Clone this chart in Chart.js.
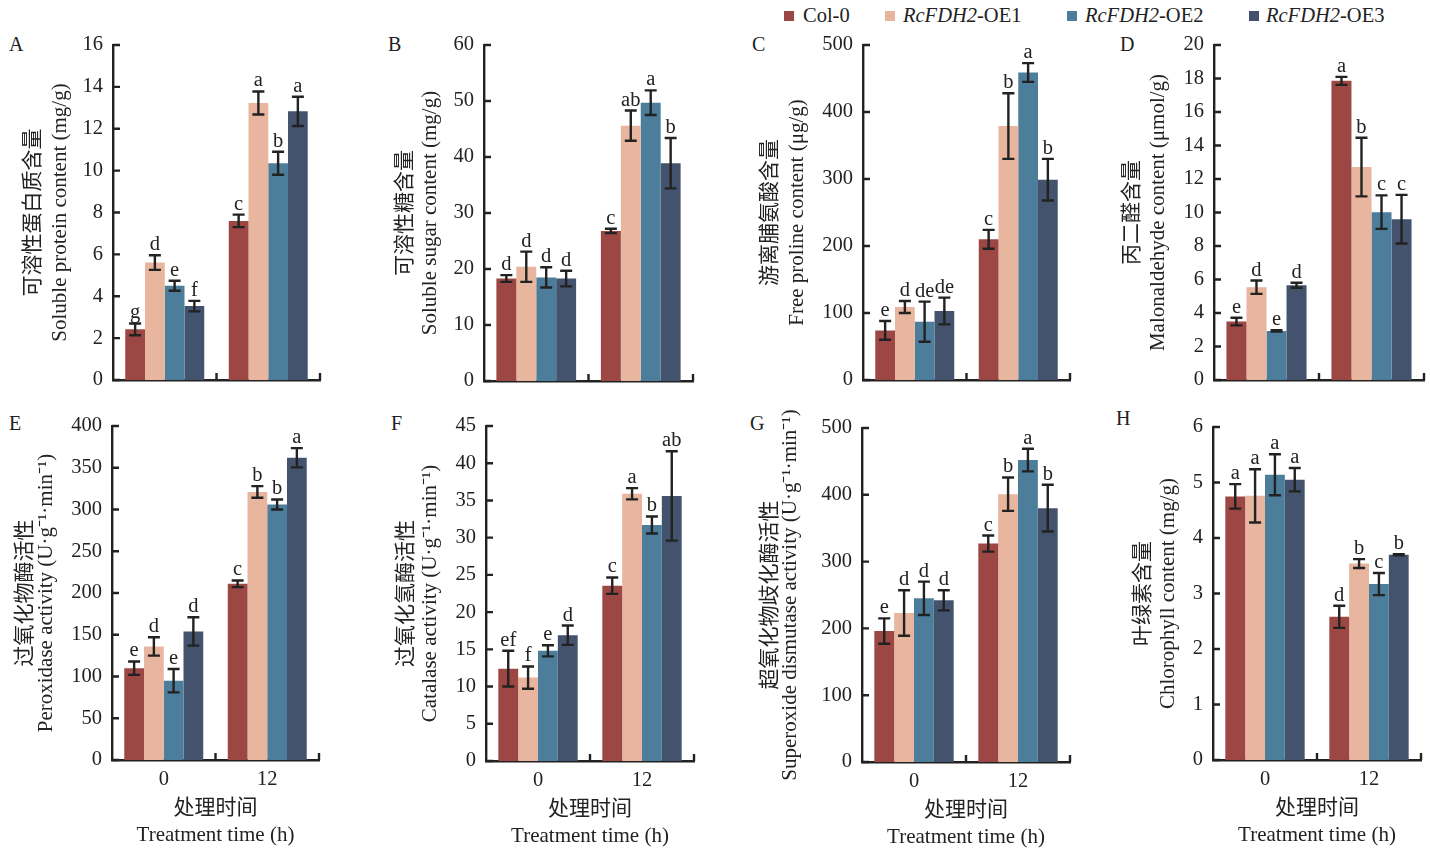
<!DOCTYPE html>
<html>
<head>
<meta charset="utf-8">
<script src="https://cdn.jsdelivr.net/npm/chart.js@4.4.1/dist/chart.umd.min.js"></script>
<style>
  body { margin: 0; background: #fff; width: 1430px; height: 853px; position: relative; overflow: hidden;
         font-family: 'Liberation Serif', 'Noto Sans CJK SC', serif; color: #222; }
  canvas { position: absolute; }
  .tag { position: absolute; font-size: 20px; line-height: 20px; }
  .sw { position: absolute; top: 11px; width: 10px; height: 10px; }
  .lt { position: absolute; top: 4px; font-size: 20.5px; line-height: 22px; white-space: nowrap; }
</style>
</head>
<body>
<div class="sw" style="left:784px;background:#9C4743"></div><div class="lt" style="left:803px">Col-0</div>
<div class="sw" style="left:885px;background:#E8B59E"></div><div class="lt" style="left:903px"><i>RcFDH2</i>-OE1</div>
<div class="sw" style="left:1067px;background:#4C7E9C"></div><div class="lt" style="left:1085px"><i>RcFDH2</i>-OE2</div>
<div class="sw" style="left:1249px;background:#43536D"></div><div class="lt" style="left:1266px"><i>RcFDH2</i>-OE3</div>

<div class="tag" style="left:9px;top:34px">A</div>
<div class="tag" style="left:388px;top:34px">B</div>
<div class="tag" style="left:752px;top:34px">C</div>
<div class="tag" style="left:1120px;top:34px">D</div>
<div class="tag" style="left:9px;top:413px">E</div>
<div class="tag" style="left:391px;top:413px">F</div>
<div class="tag" style="left:750px;top:413px">G</div>
<div class="tag" style="left:1116px;top:408px">H</div>

<script>
const times = ['0', '12'];
const genotypes = ['Col-0', 'RcFDH2-OE1', 'RcFDH2-OE2', 'RcFDH2-OE3'];
const colors = ['#9C4743', '#E8B59E', '#4C7E9C', '#43536D'];

// rows: Col-0, OE1, OE2, OE3 ; columns: 0 h, 12 h
const proteinMean = [[2.42, 7.60], [5.61, 13.23], [4.50, 10.35], [3.53, 12.83]];
const proteinErr  = [[0.28, 0.30], [0.35, 0.55], [0.24, 0.55], [0.25, 0.70]];
const proteinSig  = [['g', 'c'], ['d', 'a'], ['e', 'b'], ['f', 'a']];

const sugarMean = [[18.3, 26.8], [20.4, 45.6], [18.5, 49.7], [18.3, 38.9]];
const sugarErr  = [[0.6, 0.4], [2.7, 2.7], [1.8, 2.2], [1.4, 4.5]];
const sugarSig  = [['d', 'c'], ['d', 'ab'], ['d', 'a'], ['d', 'b']];

const prolineMean = [[74, 210], [109, 379], [87, 459], [103, 299]];
const prolineErr  = [[14, 14], [9, 49], [30, 14], [20, 31]];
const prolineSig  = [['e', 'c'], ['d', 'b'], ['de', 'a'], ['de', 'b']];

const mdaMean = [[3.49, 17.86], [5.54, 12.71], [2.93, 10.02], [5.66, 9.60]];
const mdaErr  = [[0.23, 0.24], [0.40, 1.75], [0.04, 1.00], [0.15, 1.45]];
const mdaSig  = [['e', 'a'], ['d', 'b'], ['e', 'c'], ['d', 'c']];

const podMean = [[110, 211], [136, 321], [95, 306], [154, 362]];
const podErr  = [[8, 4], [11, 7], [14, 6], [17, 11.5]];
const podSig  = [['e', 'c'], ['d', 'b'], ['e', 'b'], ['d', 'a']];

const catMean = [[12.4, 23.55], [11.2, 35.9], [14.8, 31.7], [16.9, 35.6]];
const catErr  = [[2.4, 1.1], [1.5, 0.75], [0.75, 1.15], [1.3, 6.0]];
const catSig  = [['ef', 'c'], ['f', 'a'], ['e', 'b'], ['d', 'ab']];

const sodMean = [[196, 327], [223, 401], [245, 452], [242, 380]];
const sodErr  = [[19, 12], [34, 25], [25, 17], [15, 35]];
const sodSig  = [['e', 'c'], ['d', 'b'], ['d', 'a'], ['d', 'b']];

const chlMean = [[4.75, 2.58], [4.76, 3.54], [5.14, 3.17], [5.05, 3.70]];
const chlErr  = [[0.22, 0.20], [0.48, 0.08], [0.37, 0.20], [0.21, 0.01]];
const chlSig  = [['a', 'd'], ['a', 'b'], ['a', 'c'], ['a', 'b']];

const yMax  = [16, 60, 500, 20, 400, 45, 500, 6];
const yStep = [2, 10, 100, 2, 50, 5, 100, 1];
const yTitles = [
  ['可溶性蛋白质含量', 'Soluble protein content (mg/g)'],
  ['可溶性糖含量', 'Soluble sugar content (mg/g)'],
  ['游离脯氨酸含量', 'Free proline content (μg/g)'],
  ['丙二醛含量', 'Malonaldehyde content (μmol/g)'],
  ['过氧化物酶活性', 'Peroxidase activity (U·g⁻¹·min⁻¹)'],
  ['过氧化氢酶活性', 'Catalase activity (U·g⁻¹·min⁻¹)'],
  ['超氧化物歧化酶活性', 'Superoxide dismutase activity (U·g⁻¹·min⁻¹)'],
  ['叶绿素含量', 'Chlorophyll content (mg/g)']
];
const xTitle = ['处理时间', 'Treatment time (h)'];

// placement of each plot area on the page (axis x, top, width, height), title offsets
const layout = [
  { ax: 113, ay: 45, aw: 207, ah: 335, t1: 80, gap: 27, low: false },
  { ax: 484, ay: 45, aw: 209, ah: 336, t1: 79, gap: 25, low: false },
  { ax: 863, ay: 45, aw: 207, ah: 335, t1: 93, gap: 27, low: false },
  { ax: 1214, ay: 45, aw: 210, ah: 335, t1: 82, gap: 26, low: false },
  { ax: 112, ay: 426, aw: 207, ah: 334, t1: 87, gap: 21, low: true },
  { ax: 486, ay: 426, aw: 208, ah: 335, t1: 80, gap: 24, low: true },
  { ax: 862, ay: 428, aw: 208, ah: 334, t1: 92, gap: 20, low: true },
  { ax: 1213, ay: 427, aw: 208, ah: 333, t1: 70, gap: 25, low: true }
];

const FAM = "'Liberation Serif', 'Noto Sans CJK SC', serif";
const INK = '#222';
const TICK = 20.5;
const TITLE = 21;

const marks = {
  id: 'marks',
  afterDatasetsDraw(chart) {
    const { ctx, chartArea: a, scales: { x, y } } = chart;
    ctx.save();
    ctx.strokeStyle = INK;
    ctx.lineWidth = 2.4;
    ctx.beginPath();
    y.ticks.forEach(t => {
      const py = y.getPixelForValue(t.value);
      ctx.moveTo(a.left, py); ctx.lineTo(a.left + 7, py);
    });
    [x.getPixelForValue(0.5), x.getPixelForValue(1.5)].forEach(px => {
      ctx.moveTo(px, a.bottom); ctx.lineTo(px, a.bottom - 7);
    });
    ctx.stroke();

    ctx.fillStyle = INK;
    ctx.font = TICK + 'px ' + FAM;
    ctx.textAlign = 'center';
    ctx.textBaseline = 'alphabetic';
    chart.data.datasets.forEach((ds, k) => {
      chart.getDatasetMeta(k).data.forEach((bar, j) => {
        const hi = y.getPixelForValue(ds.data[j] + ds.err[j]);
        const lo = y.getPixelForValue(ds.data[j] - ds.err[j]);
        ctx.beginPath();
        ctx.moveTo(bar.x, hi); ctx.lineTo(bar.x, lo);
        ctx.moveTo(bar.x - 6, hi); ctx.lineTo(bar.x + 6, hi);
        ctx.moveTo(bar.x - 6, lo); ctx.lineTo(bar.x + 6, lo);
        ctx.stroke();
        ctx.fillText(ds.sig[j], bar.x, hi - 5);
      });
    });
    ctx.restore();
  }
};

function makePanel(i, mean, err, sig) {
  const L = layout[i];
  const padL = 110, padT = 30, padR = 15, padB = 4;
  const xh = L.low ? 90 : 24;
  const w = padL + L.aw + padR, h = padT + L.ah + xh + padB;
  const cv = document.createElement('canvas');
  cv.width = w; cv.height = h;
  cv.style.left = (L.ax - padL) + 'px';
  cv.style.top = (L.ay - padT) + 'px';
  cv.style.width = w + 'px'; cv.style.height = h + 'px';
  document.body.appendChild(cv);

  new Chart(cv, {
    type: 'bar',
    data: {
      labels: times,
      datasets: genotypes.map((g, k) => ({
        label: g, data: mean[k], err: err[k], sig: sig[k],
        backgroundColor: colors[k], barPercentage: 1, categoryPercentage: 0.763
      }))
    },
    options: {
      responsive: false, animation: false, devicePixelRatio: 1,
      layout: { padding: { left: 0, top: padT, right: padR, bottom: padB } },
      plugins: { legend: { display: false }, tooltip: { enabled: false } },
      scales: {
        x: {
          grid: { display: false, drawTicks: false },
          border: { color: INK, width: 2.4 },
          ticks: { display: L.low, color: INK, font: { family: FAM, size: TICK }, padding: 7.7 },
          title: { display: L.low, text: xTitle, color: INK, padding: { top: 0, bottom: 1.5 },
                   font: { family: FAM, size: TITLE, lineHeight: 27 / TITLE } },
          afterFit: s => { s.height = xh; }
        },
        y: {
          min: 0, max: yMax[i],
          grid: { display: false, drawTicks: false },
          border: { color: INK, width: 2.4 },
          ticks: { stepSize: yStep[i], autoSkip: false, color: INK, font: { family: FAM, size: TICK }, padding: 10 },
          title: { display: true, text: yTitles[i], color: INK,
                   padding: { top: padL - L.t1 - L.gap / 2, bottom: 0 },
                   font: { family: FAM, size: TITLE, lineHeight: L.gap / TITLE } },
          afterFit: s => { s.width = padL; }
        }
      }
    },
    plugins: [marks]
  });
}

makePanel(0, proteinMean, proteinErr, proteinSig);
makePanel(1, sugarMean, sugarErr, sugarSig);
makePanel(2, prolineMean, prolineErr, prolineSig);
makePanel(3, mdaMean, mdaErr, mdaSig);
makePanel(4, podMean, podErr, podSig);
makePanel(5, catMean, catErr, catSig);
makePanel(6, sodMean, sodErr, sodSig);
makePanel(7, chlMean, chlErr, chlSig);
</script>
</body>
</html>
